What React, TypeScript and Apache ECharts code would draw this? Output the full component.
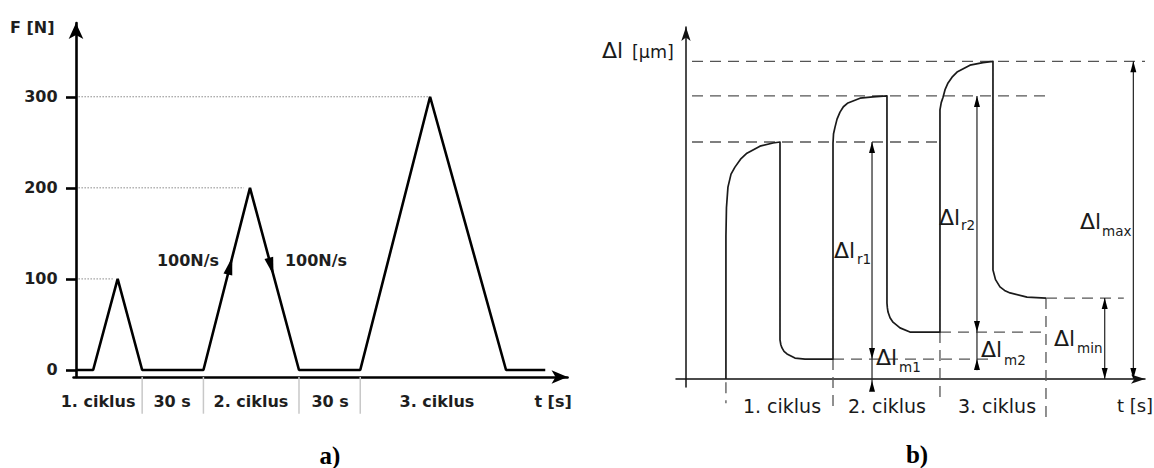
import React, { useEffect, useRef } from "react";
import * as echarts from "echarts";

// ---------- Panel a: force program F(t) ----------
const tA = [0, 0.7, 1.7, 2.7, 5.2, 7.1, 9.1, 11.6, 14.45, 17.55, 19.15];
const fA = [0, 0, 100, 0, 0, 200, 0, 0, 300, 0, 0];
const fTicks = [0, 100, 200, 300];
const refLevelsA = [100, 200, 300];
const refEndsA = [1.5, 6.85, 14.45];
const cycleBoundsA = [2.7, 5.2, 9.1, 11.6];
const segLabelsA = ["1. ciklus", "30 s", "2. ciklus", "30 s", "3. ciklus"];
const segCentersA = [0.9, 3.92, 7.14, 10.37, 14.73];
const rateLabel = "100N/s";
const upArrowA = [6.38, 124];
const downArrowA = [8.06, 104];

// ---------- Panel b: elongation Δl(t) ----------
const tB = [
  3.77, 3.77, 3.82, 3.96, 4.25, 4.62, 5.15, 5.75, 6.98, 8.21, 8.87,
  8.87, 8.95, 9.06, 9.25, 9.53, 10.28, 11.23, 13.87,
  13.87, 13.92, 14.06, 14.25, 14.53, 14.85, 15.28, 16.42, 17.64, 18.96,
  18.96, 19.0, 19.06, 19.25, 19.53, 20.19, 21.13, 23.96,
  23.96, 24.08, 24.25, 24.45, 24.72, 25.1, 25.57, 26.79, 28.02, 28.96,
  28.96, 29.2, 29.62, 30.05, 30.57, 32.17, 33.96,
];
const lB = [
  0, 45, 54, 60.4, 64.5, 66.7, 69.2, 71.1, 73.3, 74.3, 74.6,
  12.3, 10.8, 9.8, 8.7, 7.9, 6.6, 6.3, 6.3,
  74.3, 77.2, 79.3, 81.8, 84.0, 85.7, 86.9, 88.4, 88.8, 89.1,
  23.9, 22.4, 21.1, 19.3, 17.9, 16.1, 14.8, 14.8,
  84.7, 87.0, 88.7, 91.2, 93.2, 95.0, 96.6, 98.8, 99.6, 100,
  34.3, 31.3, 29.0, 27.9, 27.1, 25.8, 25.5,
];
const topLevelsB = [74.6, 89.1, 100];
const topEndsB = [24.2, 33.96, 43.3];
const baseLevelsB = [6.3, 14.8, 25.5];
const baseStartsB = [13.87, 23.96, 33.96];
const baseEndsB = [28.5, 34.05, 41.3];
const boundsB = [3.77, 13.87, 23.96, 33.96];
const boundTopsB = [-1, 6.3, 14.8, 25.5];
const boundBottomsB = [-7.6, -8.8, -7.6, -13.5];
const dimX = [17.55, 27.45, 39.5, 42.2];
const dimTop = [74.6, 89.1, 25.5, 100];
const dimBottom = [-3, 2.8, 0, 0];
const upTipsB = [[17.55, 74.6], [17.55, -0.5], [27.45, 89.1], [27.45, 6.3], [39.5, 25.5], [42.2, 100]];
const downTipsB = [[17.55, 6.3], [27.45, 14.8], [39.5, 0], [42.2, 0]];
const cycleLabelsB = ["1. ciklus", "2. ciklus", "3. ciklus"];
const cycleCentersB = [9.06, 18.96, 29.34];

const SANS = '"DejaVu Sans", "Liberation Sans", sans-serif';
const SERIF = '"Liberation Serif", "DejaVu Serif", serif';

export default function App() {
  const ref = useRef<HTMLDivElement>(null);
  useEffect(() => {
    const chart = echarts.init(ref.current!, null, { renderer: "svg" });
    const seg = (gi: number, pts: number[][], lineStyle: any, z = 2) => ({
      type: "line",
      xAxisIndex: gi,
      yAxisIndex: gi,
      data: pts,
      symbol: "none",
      silent: true,
      clip: false,
      lineStyle,
      z,
      emphasis: { disabled: true },
    });
    const series: any[] = [];
    series.push(seg(0, tA.map((t, i) => [t, fA[i]]), { color: "#000", width: 2.6 }, 5));
    refLevelsA.forEach((v, i) =>
      series.push(seg(0, [[0.1, v], [refEndsA[i], v]], { color: "#888", width: 1, type: [1.5, 1.5] }, 1))
    );
    cycleBoundsA.forEach((t) =>
      series.push(seg(0, [[t, -7.7], [t, -48]], { color: "#c8c8c8", width: 1.5 }, 1))
    );
    series.push(seg(1, tB.map((t, i) => [t, lB[i]]), { color: "#1a1a1a", width: 1.7, join: "round" }, 5));
    const dash = { color: "#555", width: 1.3, type: [11, 7] };
    topLevelsB.forEach((v, i) => series.push(seg(1, [[0.57, v], [topEndsB[i], v]], dash, 1)));
    baseLevelsB.forEach((v, i) => series.push(seg(1, [[baseStartsB[i], v], [baseEndsB[i], v]], dash, 1)));
    boundsB.forEach((t, i) => series.push(seg(1, [[t, boundTopsB[i]], [t, boundBottomsB[i]]], dash, 1)));
    dimX.forEach((x, i) =>
      series.push(seg(1, [[x, dimTop[i]], [x, dimBottom[i]]], { color: "#222", width: 1.2 }, 3))
    );

    const option: any = {
      animation: false,
      backgroundColor: "#fff",
      grid: [
        { left: 73.55, top: 23, width: 494, height: 354, outerBoundsMode: "none" },
        { left: 676, top: 27, width: 469, height: 360, outerBoundsMode: "none" },
      ],
      xAxis: [
        {
          type: "value", gridIndex: 0, min: -0.1, max: 20.06,
          axisLine: { onZero: false, symbol: ["none", "arrow"], symbolSize: [10, 16], lineStyle: { color: "#000", width: 2.6 } },
          axisTick: { show: false }, axisLabel: { show: false }, splitLine: { show: false },
        },
        {
          type: "value", gridIndex: 1, min: -0.94, max: 43.3,
          axisLine: { onZero: true, symbol: ["none", "arrow"], symbolSize: [7, 14], lineStyle: { color: "#111", width: 1.5 } },
          axisTick: { show: false }, axisLabel: { show: false }, splitLine: { show: false },
        },
      ],
      yAxis: [
        {
          type: "value", gridIndex: 0, min: -7.7, max: 381,
          axisLine: { onZero: true, symbol: ["none", "arrow"], symbolSize: [11, 16], lineStyle: { color: "#000", width: 2.6 } },
          axisTick: { show: true, customValues: fTicks, length: 10, lineStyle: { color: "#000", width: 2.6 } },
          axisLabel: {
            show: true, customValues: fTicks, margin: 16,
            fontFamily: SANS, fontWeight: "bold", fontSize: 16, color: "#1e1e1e",
          },
          splitLine: { show: false },
        },
        {
          type: "value", gridIndex: 1, min: -2.5, max: 110.8,
          axisLine: { onZero: true, symbol: ["none", "arrow"], symbolSize: [7, 14], lineStyle: { color: "#111", width: 1.5 } },
          axisTick: { show: false }, axisLabel: { show: false }, splitLine: { show: false },
        },
      ],
      series,
    };
    chart.setOption(option);

    const pa = (x: number, y: number) => chart.convertToPixel({ gridIndex: 0 }, [x, y]) as number[];
    const pb = (x: number, y: number) => chart.convertToPixel({ gridIndex: 1 }, [x, y]) as number[];
    const head = (tip: number[], dir: number[], len: number, w: number) => {
      const n = Math.hypot(dir[0], dir[1]);
      const ux = dir[0] / n, uy = dir[1] / n;
      const bx = tip[0] - ux * len, by = tip[1] - uy * len;
      const px = -uy * (w / 2), py = ux * (w / 2);
      return {
        type: "polygon",
        silent: true,
        z: 20,
        shape: { points: [[tip[0], tip[1]], [bx + px, by + py], [bx - px, by - py]] },
        style: { fill: "#000" },
      };
    };
    const txt = (x: number, y: number, text: string, font: any, align = "center") => ({
      type: "text",
      x, y, silent: true, z: 20,
      style: { text, align, verticalAlign: "middle", fill: "#1e1e1e", ...font },
    });
    const boldA = { fontFamily: SANS, fontWeight: "bold", fontSize: 16 };
    const regB = { fontFamily: SANS, fontSize: 19, fill: "#1a1a1a" };
    const big = { fontFamily: SANS, fontSize: 22, fill: "#1a1a1a" };
    const sub = { fontFamily: SANS, fontSize: 13.5, fill: "#1a1a1a" };

    const g: any[] = [];
    const r0 = pa(5.2, 0), r1 = pa(7.1, 200), r2 = pa(9.1, 0);
    g.push(head(pa(upArrowA[0], upArrowA[1]), [r1[0] - r0[0], r1[1] - r0[1]], 18, 9));
    g.push(head(pa(downArrowA[0], downArrowA[1]), [r2[0] - r1[0], r2[1] - r1[1]], 18, 9));
    g.push(txt(10, 27, "F [N]", boldA, "left"));
    segLabelsA.forEach((s, i) => {
      const p = pa(segCentersA[i], 0);
      g.push(txt(p[0], 401, s, boldA));
    });
    g.push(txt(pa(19.47, 0)[0], 401, "t [s]", boldA));
    g.push(txt(188, 260, rateLabel, boldA));
    g.push(txt(316, 260, rateLabel, boldA));
    g.push(txt(330, 455, "a)", { fontFamily: SERIF, fontWeight: "bold", fontSize: 25, fill: "#000" }));

    upTipsB.forEach((t) => g.push(head(pb(t[0], t[1]), [0, -1], 11, 6)));
    downTipsB.forEach((t) => g.push(head(pb(t[0], t[1]), [0, 1], 11, 6)));
    cycleLabelsB.forEach((s, i) => g.push(txt(pb(cycleCentersB[i], 0)[0], 406, s, regB)));
    g.push(txt(1135, 405, "t [s]", { ...regB, fontSize: 18 }));
    g.push(txt(602, 50, "Δl", big, "left"));
    g.push(txt(632, 52, "[μm]", { fontFamily: SANS, fontSize: 17.5, fill: "#1a1a1a" }, "left"));
    const dl = [
      [834, 250, "r1", 857, 259],
      [876, 357, "m1", 899, 367],
      [939, 217, "r2", 961, 225],
      [981, 349, "m2", 1004, 360],
      [1054, 338, "min", 1077, 348],
      [1080, 221, "max", 1102, 231],
    ];
    dl.forEach((d: any) => {
      g.push(txt(d[0], d[1], "Δl", big, "left"));
      g.push(txt(d[3], d[4], d[2], sub, "left"));
    });
    g.push(txt(917, 454, "b)", { fontFamily: SERIF, fontWeight: "bold", fontSize: 25, fill: "#000" }));

    chart.setOption({ graphic: g });
    return () => chart.dispose();
  }, []);
  return (
    <div
      ref={ref}
      style={{ position: "fixed", left: 0, top: 0, width: 1154, height: 468, background: "#fff" }}
    />
  );
}
